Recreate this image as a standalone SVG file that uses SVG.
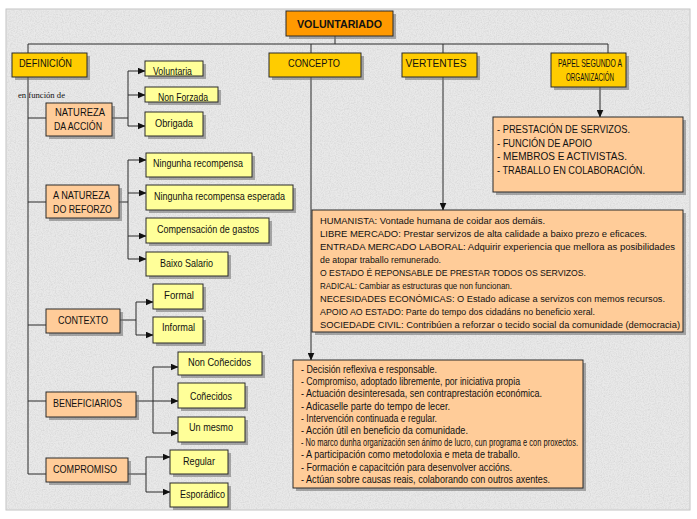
<svg xmlns="http://www.w3.org/2000/svg" width="697" height="519" viewBox="0 0 697 519">
<defs>
<style>
.bx{stroke:#2a2a2a;stroke-width:1}
.o{fill:#FF9900}.g{fill:#FFCC00}.p{fill:#FFCC99}.y{fill:#FFFF99}
.sh{fill:#6e6e6e;opacity:.55}
text{font-family:"Liberation Sans",Arial,sans-serif;font-size:10.5px;fill:#111}
.c{text-anchor:middle}
.big{font-size:11px}
.sm{font-size:10px}
.hv{font-size:9.7px}
.ser{font-family:"Liberation Serif","Times New Roman",serif;font-size:9px}
.conn line{stroke:#2a2a2a;stroke-width:1;fill:none}
.conn .a{marker-end:url(#arr)}
</style>
<marker id="arr" markerUnits="userSpaceOnUse" markerWidth="8" markerHeight="7" refX="7.5" refY="3.5" orient="auto">
<path d="M0,0 L8,3.5 L0,7 z" fill="#111"/>
</marker>
<filter id="grain" x="0" y="0" width="100%" height="100%">
<feTurbulence type="fractalNoise" baseFrequency="0.85" numOctaves="2" seed="4" result="n"/>
<feColorMatrix in="n" type="matrix" values="0 0 0 0 0.55  0 0 0 0 0.55  0 0 0 0 0.55  0.9 0 0 0 -0.33"/>
</filter>
</defs>
<rect width="697" height="519" fill="#ffffff"/>
<rect x="6" y="9" width="684" height="501" fill="#e9e9e9" stroke="#c4c4c4"/>
<rect x="7" y="10" width="682" height="499" fill="#000" filter="url(#grain)"/>

<g id="connectors" class="conn">
<line x1="335" y1="36" x2="335" y2="44"/>
<line x1="28" y1="44" x2="608" y2="44"/>
<line x1="28" y1="44" x2="28" y2="53"/>
<line x1="311" y1="44" x2="311" y2="53"/>
<line x1="443" y1="44" x2="443" y2="53"/>
<line x1="608" y1="44" x2="608" y2="53"/>
<line class="a" x1="311" y1="77" x2="311" y2="360"/>
<line class="a" x1="443" y1="77" x2="443" y2="210"/>
<line class="a" x1="600" y1="87" x2="600" y2="117"/>
<line x1="28" y1="77" x2="28" y2="474"/>
<line x1="28" y1="118" x2="46" y2="118"/>
<line x1="28" y1="202" x2="46" y2="202"/>
<line x1="28" y1="325" x2="46" y2="325"/>
<line x1="28" y1="401" x2="46" y2="401"/>
<line x1="28" y1="474" x2="46" y2="474"/>
<line x1="112" y1="118" x2="128" y2="118"/>
<line x1="128" y1="71" x2="128" y2="126"/>
<line class="a" x1="128" y1="71" x2="145" y2="71"/>
<line class="a" x1="128" y1="95" x2="145" y2="95"/>
<line class="a" x1="128" y1="126" x2="145" y2="126"/>
<line x1="119" y1="202" x2="128" y2="202"/>
<line x1="128" y1="160" x2="128" y2="259"/>
<line class="a" x1="128" y1="160" x2="146" y2="160"/>
<line class="a" x1="128" y1="193" x2="146" y2="193"/>
<line class="a" x1="128" y1="236" x2="146" y2="236"/>
<line class="a" x1="128" y1="259" x2="146" y2="259"/>
<line x1="120" y1="320" x2="136" y2="320"/>
<line x1="136" y1="302" x2="136" y2="335"/>
<line class="a" x1="136" y1="302" x2="153" y2="302"/>
<line class="a" x1="136" y1="335" x2="153" y2="335"/>
<line class="a" x1="136" y1="401" x2="178" y2="401"/>
<line x1="153" y1="367" x2="153" y2="433"/>
<line class="a" x1="153" y1="367" x2="178" y2="367"/>
<line class="a" x1="153" y1="433" x2="178" y2="433"/>
<line x1="128" y1="474" x2="146" y2="474"/>
<line x1="146" y1="457" x2="146" y2="492"/>
<line class="a" x1="146" y1="457" x2="170" y2="457"/>
<line class="a" x1="146" y1="492" x2="170" y2="492"/>
</g>

<g id="voluntariado"><rect class="sh" x="289" y="14" width="107" height="25"/><rect class="bx o" x="286" y="11" width="107" height="25"/><text class="c" x="339.5" y="28" font-weight="bold" font-size="12.5" textLength="85" lengthAdjust="spacingAndGlyphs">VOLUNTARIADO</text></g>

<g id="definicion"><rect class="sh" x="15" y="56" width="75" height="24"/><rect class="bx g" x="12" y="53" width="75" height="24"/><text class="big" x="19" y="67" textLength="53" lengthAdjust="spacingAndGlyphs">DEFINICIÓN</text></g>
<g id="concepto"><rect class="sh" x="272" y="56" width="92" height="24"/><rect class="bx g" x="269" y="53" width="92" height="24"/><text class="c big" x="314" y="67" textLength="52" lengthAdjust="spacingAndGlyphs">CONCEPTO</text></g>
<g id="vertentes"><rect class="sh" x="405" y="56" width="75" height="24"/><rect class="bx g" x="402" y="53" width="75" height="24"/><text class="c big" x="436" y="67" textLength="61" lengthAdjust="spacingAndGlyphs">VERTENTES</text></g>
<g id="papel"><rect class="sh" x="554" y="56" width="75" height="34"/><rect class="bx g" x="551" y="53" width="75" height="34"/><text class="c" x="590" y="67" textLength="64" lengthAdjust="spacingAndGlyphs">PAPEL SEGUNDO A</text><text class="c" x="590" y="81" textLength="48" lengthAdjust="spacingAndGlyphs">ORGANIZACIÓN</text></g>

<text class="ser" x="18" y="98" textLength="47" lengthAdjust="spacingAndGlyphs">en función de</text>

<g id="natureza-accion"><rect class="sh" x="49" y="106" width="66" height="33"/><rect class="bx p" x="46" y="103" width="66" height="33"/><text class="c big" x="80" y="116" textLength="50" lengthAdjust="spacingAndGlyphs">NATUREZA</text><text class="c big" x="78" y="130" textLength="48" lengthAdjust="spacingAndGlyphs">DA ACCIÓN</text></g>
<g id="voluntaria"><rect class="sh" x="148" y="64" width="58" height="15"/><rect class="bx y" x="145" y="61" width="58" height="15"/><text class="c" x="172.5" y="75" textLength="39" lengthAdjust="spacingAndGlyphs">Voluntaria</text></g>
<g id="non-forzada"><rect class="sh" x="148" y="90" width="73" height="15"/><rect class="bx y" x="145" y="87" width="73" height="15"/><text class="c" x="183" y="101" textLength="50" lengthAdjust="spacingAndGlyphs">Non Forzada</text></g>
<g id="obrigada"><rect class="sh" x="148" y="115" width="58" height="24"/><rect class="bx y" x="145" y="112" width="58" height="24"/><text class="c" x="174" y="127" textLength="38" lengthAdjust="spacingAndGlyphs">Obrigada</text></g>

<g id="natureza-reforzo"><rect class="sh" x="49" y="188" width="73" height="33"/><rect class="bx p" x="46" y="185" width="73" height="33"/><text class="big" x="53" y="199" textLength="57" lengthAdjust="spacingAndGlyphs">A NATUREZA</text><text class="big" x="53" y="213" textLength="59" lengthAdjust="spacingAndGlyphs">DO REFORZO</text></g>
<g id="ningunha-recompensa"><rect class="sh" x="149" y="156" width="106" height="24"/><rect class="bx y" x="146" y="153" width="106" height="24"/><text class="c" x="198" y="167" textLength="90" lengthAdjust="spacingAndGlyphs">Ningunha recompensa</text></g>
<g id="ningunha-esperada"><rect class="sh" x="149" y="188" width="147" height="25"/><rect class="bx y" x="146" y="185" width="147" height="25"/><text class="c" x="219.5" y="200" textLength="131" lengthAdjust="spacingAndGlyphs">Ningunha recompensa esperada</text></g>
<g id="compensacion"><rect class="sh" x="149" y="221" width="123" height="25"/><rect class="bx y" x="146" y="218" width="123" height="25"/><text class="c" x="208" y="233" textLength="102" lengthAdjust="spacingAndGlyphs">Compensación de gastos</text></g>
<g id="baixo-salario"><rect class="sh" x="149" y="255" width="82" height="24"/><rect class="bx y" x="146" y="252" width="82" height="24"/><text class="c" x="186.5" y="267" textLength="53" lengthAdjust="spacingAndGlyphs">Baixo Salario</text></g>

<g id="contexto"><rect class="sh" x="49" y="312" width="74" height="24"/><rect class="bx p" x="46" y="309" width="74" height="24"/><text class="c big" x="83" y="324" textLength="50" lengthAdjust="spacingAndGlyphs">CONTEXTO</text></g>
<g id="formal"><rect class="sh" x="156" y="287" width="50" height="25"/><rect class="bx y" x="153" y="284" width="50" height="25"/><text class="c" x="179" y="299" textLength="30" lengthAdjust="spacingAndGlyphs">Formal</text></g>
<g id="informal"><rect class="sh" x="156" y="320" width="50" height="26"/><rect class="bx y" x="153" y="317" width="50" height="26"/><text class="c" x="178.5" y="331" textLength="33" lengthAdjust="spacingAndGlyphs">Informal</text></g>

<g id="beneficiarios"><rect class="sh" x="49" y="395" width="90" height="25"/><rect class="bx p" x="46" y="392" width="90" height="25"/><text class="big" x="53" y="407" textLength="69" lengthAdjust="spacingAndGlyphs">BENEFICIARIOS</text></g>
<g id="non-conecidos"><rect class="sh" x="181" y="355" width="84" height="23"/><rect class="bx y" x="178" y="352" width="84" height="23"/><text class="c" x="219.5" y="366" textLength="63" lengthAdjust="spacingAndGlyphs">Non Coñecidos</text></g>
<g id="conecidos"><rect class="sh" x="181" y="386" width="67" height="25"/><rect class="bx y" x="178" y="383" width="67" height="25"/><text class="c" x="211" y="400" textLength="42" lengthAdjust="spacingAndGlyphs">Coñecidos</text></g>
<g id="un-mesmo"><rect class="sh" x="181" y="420" width="67" height="25"/><rect class="bx y" x="178" y="417" width="67" height="25"/><text class="c" x="211" y="431" textLength="44" lengthAdjust="spacingAndGlyphs">Un mesmo</text></g>

<g id="compromiso"><rect class="sh" x="49" y="461" width="82" height="24"/><rect class="bx p" x="46" y="458" width="82" height="24"/><text class="big" x="53" y="473" textLength="64" lengthAdjust="spacingAndGlyphs">COMPROMISO</text></g>
<g id="regular"><rect class="sh" x="173" y="453" width="58" height="24"/><rect class="bx y" x="170" y="450" width="58" height="24"/><text class="c" x="199" y="465" textLength="32" lengthAdjust="spacingAndGlyphs">Regular</text></g>
<g id="esporadico"><rect class="sh" x="173" y="486" width="58" height="24"/><rect class="bx y" x="170" y="483" width="58" height="24"/><text class="c" x="202.5" y="498" textLength="45" lengthAdjust="spacingAndGlyphs">Esporádico</text></g>

<g id="papel-lista"><rect class="sh" x="496" y="120" width="190" height="75"/><rect class="bx p" x="493" y="117" width="190" height="75"/>
<text class="big" x="497" y="133" textLength="133" lengthAdjust="spacingAndGlyphs">- PRESTACIÓN DE SERVIZOS.</text>
<text class="big" x="497" y="147" textLength="95" lengthAdjust="spacingAndGlyphs">- FUNCIÓN DE APOIO</text>
<text class="big" x="497" y="160" textLength="130" lengthAdjust="spacingAndGlyphs">- MEMBROS E ACTIVISTAS.</text>
<text class="big" x="497" y="174" textLength="148" lengthAdjust="spacingAndGlyphs">- TRABALLO EN COLABORACIÓN.</text>
</g>

<g id="vertentes-lista"><rect class="sh" x="315" y="213" width="371" height="122"/><rect class="bx p" x="312" y="210" width="371" height="122"/>
<text class="hv" x="320" y="223.5" textLength="225" lengthAdjust="spacingAndGlyphs">HUMANISTA: Vontade humana de coidar aos demáis.</text>
<text class="hv" x="320" y="236.5" textLength="327" lengthAdjust="spacingAndGlyphs">LIBRE MERCADO: Prestar servizos de alta calidade a baixo prezo e eficaces.</text>
<text class="hv" x="320" y="249.5" textLength="355" lengthAdjust="spacingAndGlyphs">ENTRADA MERCADO LABORAL: Adquirir experiencia que mellora as posibilidades</text>
<text class="hv" x="320" y="262.5" textLength="121" lengthAdjust="spacingAndGlyphs">de atopar traballo remunerado.</text>
<text class="hv" x="320" y="275.5" textLength="266" lengthAdjust="spacingAndGlyphs">O ESTADO É REPONSABLE DE PRESTAR TODOS OS SERVIZOS.</text>
<text class="hv" x="320" y="288.5" textLength="192" lengthAdjust="spacingAndGlyphs">RADICAL: Cambiar as estructuras que non funcionan.</text>
<text class="hv" x="320" y="301.5" textLength="345" lengthAdjust="spacingAndGlyphs">NECESIDADES ECONÓMICAS: O Estado adicase a servizos con  memos recursos.</text>
<text class="hv" x="320" y="314.5" textLength="275" lengthAdjust="spacingAndGlyphs">APOIO AO ESTADO: Parte do tempo dos cidadáns no beneficio xeral.</text>
<text class="hv" x="320" y="327.5" textLength="360" lengthAdjust="spacingAndGlyphs">SOCIEDADE CIVIL: Contribúen a reforzar o tecido social da comunidade (democracia)</text>
</g>

<g id="concepto-lista"><rect class="sh" x="296" y="363" width="290" height="128"/><rect class="bx p" x="293" y="360" width="290" height="128"/>
<text class="sm" x="301" y="373" textLength="136" lengthAdjust="spacingAndGlyphs">- Decisión reflexiva e responsable.</text>
<text class="sm" x="301" y="385.2" textLength="219" lengthAdjust="spacingAndGlyphs">- Compromiso, adoptado libremente, por iniciativa propia</text>
<text class="sm" x="301" y="397.4" textLength="241" lengthAdjust="spacingAndGlyphs">- Actuación desinteresada, sen contraprestación económica.</text>
<text class="sm" x="301" y="409.6" textLength="149" lengthAdjust="spacingAndGlyphs">- Adicaselle parte do tempo de lecer.</text>
<text class="sm" x="301" y="421.8" textLength="136" lengthAdjust="spacingAndGlyphs">- Intervención continuada e regular.</text>
<text class="sm" x="301" y="434" textLength="167" lengthAdjust="spacingAndGlyphs">- Acción útil en beneficio da comunidade.</text>
<text class="sm" x="301" y="446.2" textLength="277" lengthAdjust="spacingAndGlyphs">- No marco dunha organización sen ánimo de lucro, cun programa e con proxectos.</text>
<text class="sm" x="301" y="458.4" textLength="219" lengthAdjust="spacingAndGlyphs">- A participación como metodoloxia e meta de traballo.</text>
<text class="sm" x="301" y="470.6" textLength="211" lengthAdjust="spacingAndGlyphs">- Formación e capacitción para desenvolver accións.</text>
<text class="sm" x="301" y="482.8" textLength="249" lengthAdjust="spacingAndGlyphs">- Actúan sobre causas reais, colaborando con outros axentes.</text>
</g>
</svg>
